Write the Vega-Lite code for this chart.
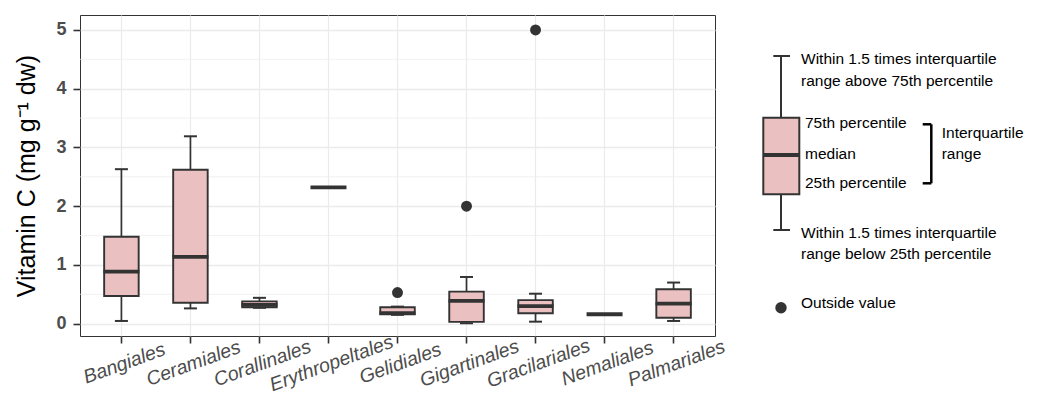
{
  "$schema": "https://vega.github.io/schema/vega-lite/v6.json",
  "padding": {"left": 14, "top": 14, "right": 0, "bottom": 0},
  "background": "white",
  "spacing": 12,
  "bounds": "flush",
  "config": {
    "font": "Liberation Sans",
    "view": {"stroke": "#333333", "strokeWidth": 1}
  },
  "datasets": {
    "boxes": [
      {"order": "Bangiales", "lower": 0.046, "q1": 0.47, "median": 0.886, "q3": 1.48, "upper": 2.63},
      {"order": "Ceramiales", "lower": 0.26, "q1": 0.355, "median": 1.136, "q3": 2.62, "upper": 3.19},
      {"order": "Corallinales", "lower": 0.27, "q1": 0.28, "median": 0.32, "q3": 0.38, "upper": 0.44},
      {"order": "Erythropeltales", "lower": 2.32, "q1": 2.32, "median": 2.32, "q3": 2.32, "upper": 2.32},
      {"order": "Gelidiales", "lower": 0.15, "q1": 0.16, "median": 0.18, "q3": 0.28, "upper": 0.29},
      {"order": "Gigartinales", "lower": 0.007, "q1": 0.03, "median": 0.387, "q3": 0.545, "upper": 0.795},
      {"order": "Gracilariales", "lower": 0.034, "q1": 0.177, "median": 0.3, "q3": 0.4, "upper": 0.51},
      {"order": "Nemaliales", "lower": 0.16, "q1": 0.16, "median": 0.16, "q3": 0.16, "upper": 0.16},
      {"order": "Palmariales", "lower": 0.046, "q1": 0.1, "median": 0.34, "q3": 0.586, "upper": 0.7}
    ],
    "outliers": [
      {"order": "Gelidiales", "value": 0.53},
      {"order": "Gigartinales", "value": 2.0},
      {"order": "Gracilariales", "value": 5.0}
    ],
    "minorGrid": [
      {"value": 0.5}, {"value": 1.5}, {"value": 2.5}, {"value": 3.5}, {"value": 4.5}
    ],
    "legendSegments": [
      {"part": "whisker", "x": 54, "x2": 54, "y": 41, "y2": 102.7},
      {"part": "whisker", "x": 54, "x2": 54, "y": 179.3, "y2": 215},
      {"part": "whisker", "x": 46.3, "x2": 63, "y": 41, "y2": 41},
      {"part": "whisker", "x": 46.3, "x2": 63, "y": 215, "y2": 215},
      {"part": "median", "x": 36.3, "x2": 72.3, "y": 140, "y2": 140},
      {"part": "bracket", "x": 204.3, "x2": 204.3, "y": 109.3, "y2": 168.3},
      {"part": "bracket", "x": 195.7, "x2": 204.3, "y": 109.3, "y2": 109.3},
      {"part": "bracket", "x": 195.7, "x2": 204.3, "y": 168.3, "y2": 168.3}
    ],
    "legendBox": [
      {"x": 36.3, "x2": 72.3, "y": 102.7, "y2": 179.3}
    ],
    "legendPoint": [
      {"x": 54, "y": 292.7}
    ],
    "legendText": [
      {"x": 74, "y": 49.3, "label": "Within 1.5 times interquartile"},
      {"x": 74, "y": 70.5, "label": "range above 75th percentile"},
      {"x": 78, "y": 113.3, "label": "75th percentile"},
      {"x": 78, "y": 144.3, "label": "median"},
      {"x": 78, "y": 173.3, "label": "25th percentile"},
      {"x": 214.7, "y": 122.7, "label": "Interquartile"},
      {"x": 214.7, "y": 144.3, "label": "range"},
      {"x": 74, "y": 222.7, "label": "Within 1.5 times interquartile"},
      {"x": 74, "y": 244.3, "label": "range below 25th percentile"},
      {"x": 74, "y": 293.3, "label": "Outside value"}
    ]
  },
  "hconcat": [
    {
      "width": 635,
      "height": 321,
      "layer": [
        {
          "data": {"name": "minorGrid"},
          "mark": {"type": "rule", "color": "#EBEBEB", "strokeWidth": 0.7},
          "encoding": {
            "y": {
              "field": "value",
              "type": "quantitative",
              "title": "Vitamin C (mg g⁻¹ dw)",
              "scale": {"domain": [-0.21, 5.255], "nice": false, "zero": false},
              "axis": {
                "values": [0, 1, 2, 3, 4, 5],
                "format": "d",
                "domain": false,
                "grid": true,
                "gridColor": "#EBEBEB",
                "gridWidth": 1.3,
                "ticks": true,
                "tickSize": 7,
                "tickWidth": 1.6,
                "tickColor": "#333333",
                "tickOpacity": 1,
                "labelFontSize": 18,
                "labelFontWeight": "bold",
                "labelColor": "#4D4D4D",
                "labelPadding": 7,
                "titleFontSize": 25,
                "titleFontWeight": "normal",
                "titleColor": "#000000",
                "titlePadding": 16
              }
            }
          }
        },
        {
          "data": {"name": "boxes"},
          "mark": {"type": "rule", "color": "#333333", "strokeWidth": 1.7},
          "encoding": {
            "x": {
              "field": "order",
              "type": "nominal",
              "sort": null,
              "scale": {"domain": ["Bangiales", "Ceramiales", "Corallinales", "Erythropeltales", "Gelidiales", "Gigartinales", "Gracilariales", "Nemaliales", "Palmariales"], "paddingInner": 0, "paddingOuter": 0.1},
              "axis": {
                "title": null,
                "bandPosition": 0.5,
                "domain": false,
                "grid": true,
                "gridColor": "#EBEBEB",
                "gridWidth": 1.2,
                "ticks": true,
                "tickSize": 7,
                "tickWidth": 1.6,
                "tickColor": "#333333",
                "tickOpacity": 1,
                "labelAngle": -20,
                "labelAlign": "center",
                "labelBaseline": "middle",
                "labelPadding": 20,
                "labelOffset": 3,
                "labelFontSize": 19.5,
                "labelFontStyle": "italic",
                "labelColor": "#4D4D4D"
              }
            },
            "y": {"field": "q3", "type": "quantitative", "title": "Vitamin C (mg g⁻¹ dw)"},
            "y2": {"field": "upper"}
          }
        },
        {
          "data": {"name": "boxes"},
          "mark": {"type": "rule", "color": "#333333", "strokeWidth": 1.7},
          "encoding": {
            "x": {"field": "order", "type": "nominal", "sort": null},
            "y": {"field": "lower", "type": "quantitative", "title": "Vitamin C (mg g⁻¹ dw)"},
            "y2": {"field": "q1"}
          }
        },
        {
          "data": {"name": "boxes"},
          "mark": {"type": "tick", "color": "#333333", "opacity": 1, "size": 13, "thickness": 2},
          "encoding": {
            "x": {"field": "order", "type": "nominal", "sort": null},
            "y": {"field": "upper", "type": "quantitative", "title": "Vitamin C (mg g⁻¹ dw)"}
          }
        },
        {
          "data": {"name": "boxes"},
          "mark": {"type": "tick", "color": "#333333", "opacity": 1, "size": 13, "thickness": 2},
          "encoding": {
            "x": {"field": "order", "type": "nominal", "sort": null},
            "y": {"field": "lower", "type": "quantitative", "title": "Vitamin C (mg g⁻¹ dw)"}
          }
        },
        {
          "data": {"name": "boxes"},
          "mark": {"type": "bar", "width": {"band": 0.5}, "fill": "#EBC0C1", "stroke": "#333333", "strokeWidth": 1.9, "opacity": 1},
          "encoding": {
            "x": {"field": "order", "type": "nominal", "sort": null},
            "y": {"field": "q1", "type": "quantitative", "title": "Vitamin C (mg g⁻¹ dw)"},
            "y2": {"field": "q3"}
          }
        },
        {
          "data": {"name": "boxes"},
          "mark": {"type": "tick", "color": "#333333", "opacity": 1, "size": 36, "thickness": 3.8},
          "encoding": {
            "x": {"field": "order", "type": "nominal", "sort": null},
            "y": {"field": "median", "type": "quantitative", "title": "Vitamin C (mg g⁻¹ dw)"}
          }
        },
        {
          "data": {"name": "outliers"},
          "mark": {"type": "point", "filled": true, "color": "#333333", "opacity": 1, "size": 119},
          "encoding": {
            "x": {"field": "order", "type": "nominal", "sort": null},
            "y": {"field": "value", "type": "quantitative", "title": "Vitamin C (mg g⁻¹ dw)"}
          }
        }
      ]
    },
    {
      "width": 312,
      "height": 321,
      "view": {"stroke": null},
      "layer": [
        {
          "data": {"name": "legendSegments"},
          "transform": [{"filter": "datum.part == 'whisker'"}],
          "mark": {"type": "rule", "color": "#333333", "strokeWidth": 2},
          "encoding": {
            "x": {"field": "x", "type": "quantitative", "scale": {"domain": [0, 312], "nice": false, "zero": false}, "axis": null},
            "x2": {"field": "x2"},
            "y": {"field": "y", "type": "quantitative", "scale": {"domain": [0, 321], "nice": false, "zero": false, "reverse": true}, "axis": null},
            "y2": {"field": "y2"}
          }
        },
        {
          "data": {"name": "legendBox"},
          "mark": {"type": "rect", "fill": "#EBC0C1", "stroke": "#333333", "strokeWidth": 2},
          "encoding": {
            "x": {"field": "x", "type": "quantitative", "axis": null},
            "x2": {"field": "x2"},
            "y": {"field": "y", "type": "quantitative", "axis": null},
            "y2": {"field": "y2"}
          }
        },
        {
          "data": {"name": "legendSegments"},
          "transform": [{"filter": "datum.part == 'median'"}],
          "mark": {"type": "rule", "color": "#333333", "strokeWidth": 3.8},
          "encoding": {
            "x": {"field": "x", "type": "quantitative", "axis": null},
            "x2": {"field": "x2"},
            "y": {"field": "y", "type": "quantitative", "axis": null},
            "y2": {"field": "y2"}
          }
        },
        {
          "data": {"name": "legendSegments"},
          "transform": [{"filter": "datum.part == 'bracket'"}],
          "mark": {"type": "rule", "color": "#000000", "strokeWidth": 2.5},
          "encoding": {
            "x": {"field": "x", "type": "quantitative", "axis": null},
            "x2": {"field": "x2"},
            "y": {"field": "y", "type": "quantitative", "axis": null},
            "y2": {"field": "y2"}
          }
        },
        {
          "data": {"name": "legendPoint"},
          "mark": {"type": "point", "filled": true, "color": "#333333", "opacity": 1, "size": 130},
          "encoding": {
            "x": {"field": "x", "type": "quantitative", "axis": null},
            "y": {"field": "y", "type": "quantitative", "axis": null}
          }
        },
        {
          "data": {"name": "legendText"},
          "mark": {"type": "text", "align": "left", "baseline": "alphabetic", "fontSize": 15.5, "color": "#000000"},
          "encoding": {
            "x": {"field": "x", "type": "quantitative", "axis": null},
            "y": {"field": "y", "type": "quantitative", "axis": null},
            "text": {"field": "label"}
          }
        }
      ]
    }
  ]
}
